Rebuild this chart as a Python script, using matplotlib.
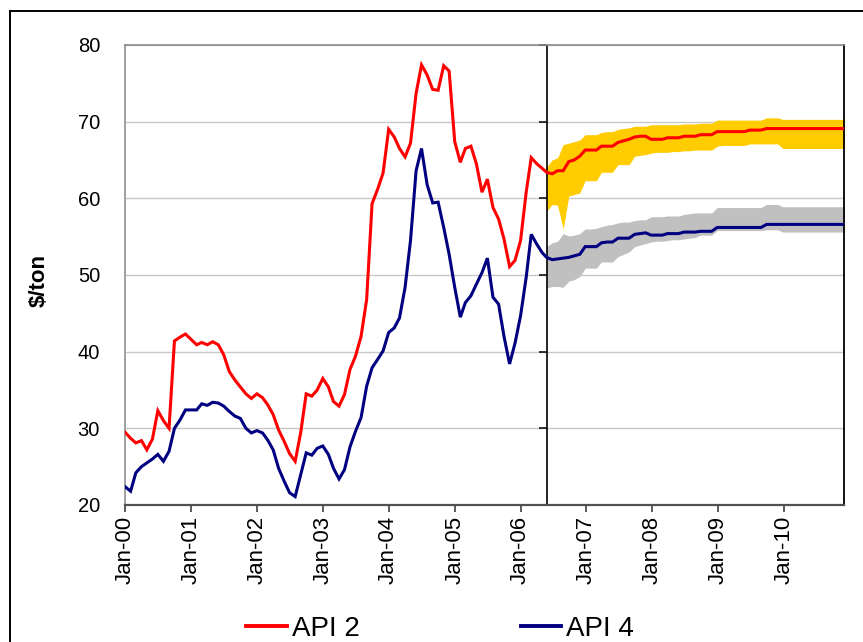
import matplotlib
matplotlib.use('Agg')
import matplotlib.pyplot as plt
import matplotlib.dates as mdates
import pandas as pd
from matplotlib.patches import Rectangle
from matplotlib.lines import Line2D

plt.rcParams['font.family'] = ['Liberation Sans', 'DejaVu Sans']

# ---------------- data ----------------
hist_start = '2000-01-01'
forecast_start = '2006-05-25'
x_end = '2010-11-28'

api2_hist = [29.5, 28.7, 28.1, 28.4, 27.2, 28.6, 32.3, 31.0, 30.0, 41.4, 41.9, 42.3,
             41.6, 40.9, 41.2, 40.9, 41.3, 40.9, 39.6, 37.4, 36.3, 35.4, 34.5, 33.9,
             34.5, 34.0, 33.1, 31.8, 29.8, 28.3, 26.7, 25.7, 29.5, 34.5, 34.2, 35.0,
             36.5, 35.4, 33.5, 32.9, 34.4, 37.7, 39.4, 42.0, 46.8, 59.3, 61.2, 63.3,
             69.0, 68.0, 66.5, 65.4, 67.2, 73.7, 77.4, 76.1, 74.2, 74.1, 77.3, 76.6,
             67.4, 64.7, 66.5, 66.8, 64.5, 60.8, 62.5, 58.8, 57.3, 54.7, 51.1, 51.9,
             54.5, 60.8, 65.3, 64.5, 63.9]

api4_hist = [22.4, 21.8, 24.2, 25.0, 25.5, 26.0, 26.6, 25.7, 27.0, 30.0, 31.1, 32.4,
             32.4, 32.4, 33.2, 33.0, 33.4, 33.3, 32.9, 32.2, 31.6, 31.3, 30.0, 29.4,
             29.7, 29.4, 28.5, 27.2, 24.8, 23.1, 21.6, 21.1, 24.0, 26.8, 26.5, 27.4,
             27.7, 26.6, 24.8, 23.4, 24.6, 27.6, 29.6, 31.4, 35.5, 37.9, 39.0, 40.1,
             42.5, 43.1, 44.4, 48.4, 54.5, 63.6, 66.5, 61.8, 59.4, 59.5, 56.2, 52.7,
             48.4, 44.5, 46.4, 47.3, 48.8, 50.3, 52.2, 47.1, 46.2, 42.0, 38.4, 41.1,
             44.7, 49.7, 55.3, 54.0, 52.9]

api2_fc = [63.4, 63.2, 63.6, 63.6, 64.8, 65.0, 65.5, 66.3, 66.3, 66.3, 66.8, 66.8,
           66.8, 67.3, 67.5, 67.7, 68.0, 68.1, 68.1, 67.7, 67.7, 67.7, 67.9, 67.9,
           67.9, 68.1, 68.1, 68.1, 68.3, 68.3, 68.3, 68.7, 68.7, 68.7, 68.7, 68.7,
           68.7, 68.9, 68.9, 68.9, 69.1, 69.1, 69.1, 69.1, 69.1, 69.1, 69.1, 69.1,
           69.1, 69.1, 69.1, 69.1, 69.1, 69.1, 69.1, 69.1]
api2_hi = [64.1, 65.0, 65.3, 67.0, 67.2, 67.4, 67.6, 68.3, 68.3, 68.3, 68.6, 68.7,
           68.7, 69.0, 69.1, 69.2, 69.4, 69.4, 69.4, 69.6, 69.6, 69.6, 69.6, 69.6,
           69.6, 69.7, 69.7, 69.7, 69.8, 69.8, 69.8, 70.2, 70.2, 70.2, 70.2, 70.2,
           70.2, 70.2, 70.2, 70.2, 70.5, 70.5, 70.5, 70.3, 70.3, 70.3, 70.3, 70.3,
           70.3, 70.3, 70.3, 70.3, 70.3, 70.3, 70.3, 70.3]
api2_lo = [58.3, 59.2, 59.1, 56.0, 60.3, 60.5, 60.7, 62.3, 62.3, 62.3, 63.4, 63.4,
           63.4, 64.4, 64.4, 64.4, 65.5, 65.6, 65.7, 65.9, 66.0, 66.0, 66.0, 66.1,
           66.1, 66.2, 66.2, 66.3, 66.3, 66.3, 66.3, 66.8, 66.9, 66.9, 66.9, 66.9,
           66.9, 67.1, 67.1, 67.1, 67.1, 67.1, 67.1, 66.5, 66.5, 66.5, 66.5, 66.5,
           66.5, 66.5, 66.5, 66.5, 66.5, 66.5, 66.5, 66.5]

api4_fc = [52.3, 52.0, 52.1, 52.2, 52.3, 52.5, 52.7, 53.7, 53.7, 53.7, 54.2, 54.3,
           54.3, 54.8, 54.8, 54.8, 55.3, 55.4, 55.5, 55.2, 55.2, 55.2, 55.4, 55.4,
           55.4, 55.6, 55.6, 55.6, 55.7, 55.7, 55.7, 56.2, 56.2, 56.2, 56.2, 56.2,
           56.2, 56.2, 56.2, 56.2, 56.6, 56.6, 56.6, 56.6, 56.6, 56.6, 56.6, 56.6,
           56.6, 56.6, 56.6, 56.6, 56.6, 56.6, 56.6, 56.6]
api4_hi = [53.7, 54.2, 54.4, 55.4, 55.1, 55.2, 55.4, 56.0, 56.0, 56.1, 56.3, 56.5,
           56.6, 56.8, 56.9, 56.9, 57.1, 57.2, 57.2, 57.6, 57.6, 57.6, 57.7, 57.7,
           57.7, 57.9, 58.0, 58.1, 58.1, 58.1, 58.1, 58.8, 58.8, 58.8, 58.8, 58.8,
           58.8, 58.8, 58.8, 58.8, 59.2, 59.2, 59.2, 58.9, 58.9, 58.9, 58.9, 58.9,
           58.9, 58.9, 58.9, 58.9, 58.9, 58.9, 58.9, 58.9]
api4_lo = [48.3, 48.5, 48.5, 48.4, 49.2, 49.4, 49.8, 50.9, 50.9, 50.9, 51.7, 51.7,
           51.7, 52.4, 52.7, 53.0, 53.7, 53.9, 54.1, 54.3, 54.4, 54.4, 54.5, 54.6,
           54.6, 54.7, 54.8, 54.9, 55.2, 55.2, 55.2, 55.8, 55.8, 55.8, 55.8, 55.8,
           55.8, 55.8, 55.8, 55.8, 55.9, 55.9, 55.9, 55.6, 55.6, 55.6, 55.6, 55.6,
           55.6, 55.6, 55.6, 55.6, 55.6, 55.6, 55.6, 55.6]

year_labels = ['Jan-00', 'Jan-01', 'Jan-02', 'Jan-03', 'Jan-04', 'Jan-05',
               'Jan-06', 'Jan-07', 'Jan-08', 'Jan-09', 'Jan-10']
y_ticks = [20, 30, 40, 50, 60, 70, 80]
series_names = ['API 2', 'API 4']

# ---------------- dates ----------------
hist_dates = list(pd.date_range(hist_start, periods=len(api2_hist), freq='MS'))
split = pd.Timestamp(forecast_start)
fc_dates = [split + pd.DateOffset(months=n) for n in range(len(api2_fc))]
tick_dates = list(pd.date_range(hist_start, periods=len(year_labels), freq='YS'))

# ---------------- figure ----------------
W, H = 863, 642
fig = plt.figure(figsize=(W / 100, H / 100), dpi=100)
ax = fig.add_axes([125 / W, 1 - 505 / H, (844 - 125) / W, (505 - 45) / H])

RED = '#FF0000'
NAVY = '#000080'

ax.fill_between(fc_dates, api2_lo, api2_hi, color='#FFCC00', lw=0, zorder=1)
ax.fill_between(fc_dates, api4_lo, api4_hi, color='#C0C0C0', lw=0, zorder=1)

ax.axvline(split, color='black', lw=1.2, zorder=2)
ax.plot([split] * len(y_ticks), y_ticks, ls='none', marker=0, markersize=6,
        markeredgewidth=1.1, color='black', zorder=2, clip_on=False)

ax.plot(hist_dates + fc_dates, api2_hist + api2_fc, color=RED, lw=2.2, zorder=3,
        solid_joinstyle='miter')
ax.plot(hist_dates + fc_dates, api4_hist + api4_fc, color=NAVY, lw=2.2, zorder=3,
        solid_joinstyle='miter')

ax.set_xlim(pd.Timestamp(hist_start), pd.Timestamp(x_end))
ax.set_ylim(20, 80)
ax.set_yticks(y_ticks)
ax.set_yticklabels([str(v) for v in y_ticks], fontsize=14.5)
ax.tick_params(axis='y', length=0, pad=18)
ax.set_xticks(tick_dates)
ax.set_xticklabels(year_labels, rotation=90, fontsize=16)
ax.tick_params(axis='x', direction='out', length=5, width=1.2, color='#404040', pad=3)

ax.yaxis.grid(True, color='#C8C8C8', lw=1.0)
ax.set_axisbelow(True)

ax.spines['left'].set_color('#A0A0A0')
ax.spines['left'].set_linewidth(1.4)
ax.spines['top'].set_color('#8C8C8C')
ax.spines['top'].set_linewidth(1.2)
ax.spines['bottom'].set_color('#505050')
ax.spines['bottom'].set_linewidth(1.6)
ax.spines['right'].set_color('black')
ax.spines['right'].set_linewidth(1.3)

ax.set_ylabel('$/ton', fontsize=16, fontweight='bold')
ax.yaxis.set_label_coords(-0.104, 0.487)

handles = [Line2D([], [], color=RED, lw=2.8), Line2D([], [], color=NAVY, lw=2.8)]
fig.legend(handles, series_names, loc='center', bbox_to_anchor=(0.51, 0.02),
           ncol=2, frameon=False, fontsize=20, handlelength=1.45,
           handletextpad=0.18, columnspacing=5.8)

fig.patches.append(Rectangle((10 / W, -0.1), 1.2, 1 - 11 / H + 0.1,
                             transform=fig.transFigure, fill=False,
                             ec='black', lw=1.4))

fig.savefig('out.png', dpi=100)
